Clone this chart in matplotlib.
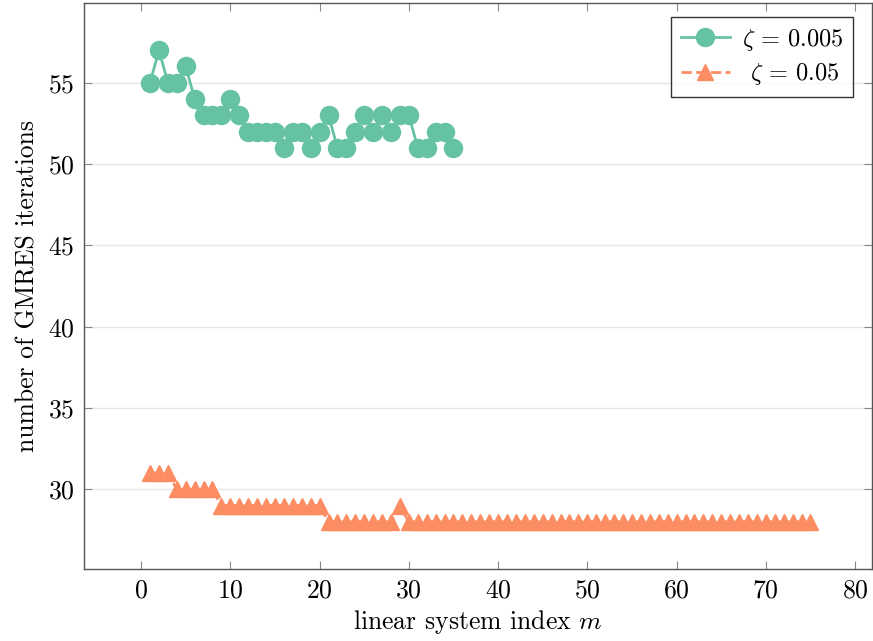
import matplotlib
matplotlib.use("Agg")
import matplotlib.pyplot as plt

plt.rcParams['font.family'] = 'serif'
plt.rcParams['font.serif'] = ['cmr10']
plt.rcParams['mathtext.fontset'] = 'cm'
plt.rcParams['axes.formatter.use_mathtext'] = True

# zeta = 0.005
x1 = list(range(1, 36))
y1 = [55, 57, 55, 55, 56, 54, 53, 53, 53, 54, 53, 52, 52, 52, 52, 51, 52, 52, 51, 52,
      53, 51, 51, 52, 53, 52, 53, 52, 53, 53, 51, 51, 52, 52, 51]

# zeta = 0.05
x2 = list(range(1, 76))
y2 = [31]*3 + [30]*5 + [29]*12 + [28]*8 + [29] + [28]*46

green = '#66c2a5'
orange = '#fc8d62'

fig = plt.figure(figsize=(8.73, 6.41), dpi=100)
ax = fig.add_axes([0.0962, 0.1123, 0.9027, 0.883])

ax.plot(x1, y1, '-', color=green, lw=2, marker='o', markersize=13,
        label=r'$\zeta$ = 0.005', zorder=3)
ax.plot(x2, y2, '--', color=orange, lw=2, marker='^', markersize=12,
        label=r' $\zeta$ = 0.05', zorder=3)

ax.set_xlim(-6.4, 81.9)
ax.set_ylim(25.1, 59.9)
ax.set_xticks(range(0, 81, 10))
ax.set_yticks(range(30, 56, 5))
ax.grid(True, axis='y', color='#e6e6e6', lw=1)
ax.set_axisbelow(True)
ax.tick_params(direction='in', top=True, right=True, length=6, width=0.8,
               color='#888888', labelsize=18.5, pad=7)
for s in ax.spines.values():
    s.set_color('#555555')
    s.set_linewidth(1)

ax.set_xlabel(r'linear system index $m$', fontsize=18.5, labelpad=4)
ax.set_ylabel('number of GMRES iterations', fontsize=18.5, labelpad=6)

leg = ax.legend(loc='upper right', bbox_to_anchor=(0.976, 0.975), fontsize=17.5,
                frameon=True, fancybox=False, edgecolor='black',
                handlelength=2.0, borderpad=0.4, labelspacing=0.35,
                handletextpad=0.5, borderaxespad=0)
leg.get_frame().set_linewidth(1)

fig.savefig('out.png', dpi=100)
